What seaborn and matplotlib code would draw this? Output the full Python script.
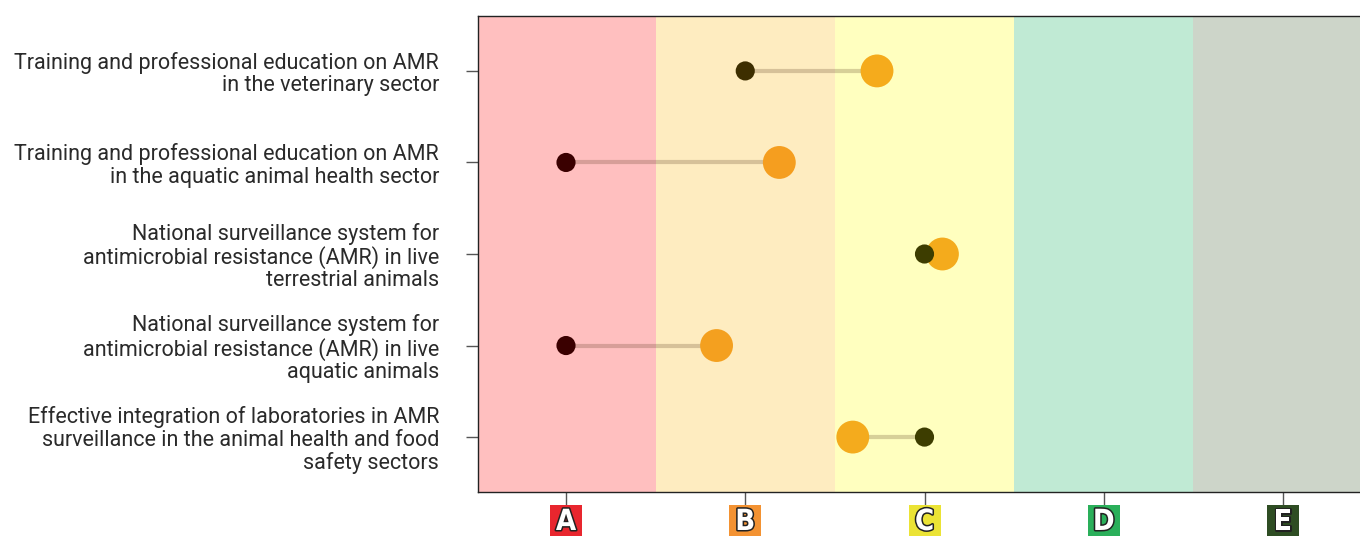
import numpy as np
import pandas as pd
import matplotlib
matplotlib.use('Agg')
import matplotlib.pyplot as plt
import matplotlib.patheffects as pe
from matplotlib.patches import Rectangle
import seaborn as sns

# 指标名称
indicators = [
    'Training and professional education on AMR\nin the veterinary sector',
    'Training and professional education on AMR\nin the aquatic animal health sector',
    'National surveillance system for\nantimicrobial resistance (AMR) in live\nterrestrial animals',
    'National surveillance system for\nantimicrobial resistance (AMR) in live\naquatic animals',
    'Effective integration of laboratories in AMR\nsurveillance in the animal health and food\nsafety sectors',
]
# 国家得分（小点）与区域平均（大点）
country_score = [2.0, 1.0, 3.0, 1.0, 3.0]
region_avg = [2.735, 2.19, 3.1, 1.84, 2.6]
country_colors = ['#3d2e00', '#3a0000', '#3d3d00', '#3a0000', '#3d3d00']
region_colors = ['#f5ab1c', '#f59e1f', '#f4ab1c', '#f4a01f', '#f4ab1d']

grades = ['A', 'B', 'C', 'D', 'E']
band_colors = ['#ffbfbf', '#feecc0', '#ffffbf', '#c0ead4', '#cdd5c9']
box_colors = ['#e8262e', '#f39232', '#ebe335', '#2aaf5a', '#2e4d23']

df = pd.DataFrame({
    'indicator': indicators,
    'row': np.arange(len(indicators)),
    'country': country_score,
    'region': region_avg,
})

sns.set_style('white')
plt.rcParams['font.family'] = ['Roboto', 'DejaVu Sans']

fig = plt.figure(figsize=(13.6, 5.36), dpi=100)
ax = fig.add_axes([478 / 1360, 44 / 536, 882 / 1360, 476 / 536])

# 背景色带
for i, c in enumerate(band_colors):
    ax.axvspan(i + 0.5, i + 1.5, color=c, lw=0, zorder=0)

# 连线
ax.hlines(df['row'], df['country'], df['region'], color='#4a2a10', alpha=0.22, lw=3, zorder=1)

# 大点（区域平均）
sns.scatterplot(data=df, x='region', y='row', hue='indicator',
                palette=dict(zip(indicators, region_colors)), s=560,
                linewidth=0, legend=False, ax=ax, zorder=2)
# 小点（国家）
sns.scatterplot(data=df, x='country', y='row', hue='indicator',
                palette=dict(zip(indicators, country_colors)), s=190,
                linewidth=0, legend=False, ax=ax, zorder=3)

unit = 179.25
ax.set_xlim(1 - 88 / unit, 1 + 794 / unit)
ax.set_ylim(4.6, -0.6)
ax.set_xlabel('')
ax.set_ylabel('')

ax.set_yticks(df['row'])
ax.set_yticklabels(indicators, fontsize=15.5, fontweight='normal', color='#2a2a2a',
                   linespacing=1.08)
ax.tick_params(axis='y', length=9, width=1, color='#555555', pad=19, left=True)

ax.set_xticks(range(1, len(grades) + 1))
ax.set_xticklabels([])
ax.tick_params(axis='x', length=9, width=1, color='#555555', bottom=True)

for s in ['left', 'bottom', 'top']:
    ax.spines[s].set_visible(True)
    ax.spines[s].set_color('#222222')
    ax.spines[s].set_linewidth(1)
ax.spines['right'].set_visible(False)

# 等级标签方块
trans = matplotlib.transforms.blended_transform_factory(ax.transData, ax.transAxes)
w = 32 / unit
for i, (g, c) in enumerate(zip(grades, box_colors), start=1):
    ax.add_patch(Rectangle((i - w / 2, -0.094), w, 0.067, transform=trans,
                           facecolor=c, edgecolor='none', clip_on=False))
    t = ax.text(i, -0.063, g, transform=trans, ha='center', va='center',
                fontsize=21, fontweight='heavy', family='DejaVu Sans',
                fontstretch='condensed', color='white', clip_on=False)
    t.set_path_effects([pe.withStroke(linewidth=2.2, foreground='#222222')])

fig.savefig('out.png', dpi=100)
